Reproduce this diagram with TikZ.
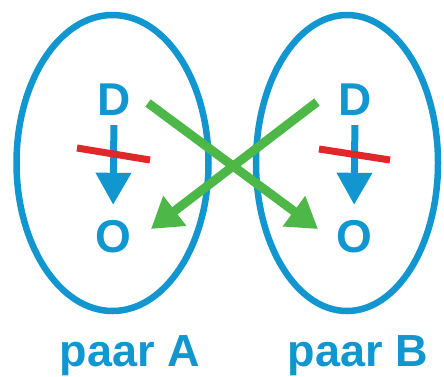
\documentclass[tikz,border=0pt]{standalone}
\usepackage{fontspec}
\setmainfont{Liberation Sans}
\usetikzlibrary{arrows.meta}
\definecolor{pblue}{RGB}{17,150,208}
\definecolor{pgreen}{RGB}{77,184,72}
\definecolor{pred}{RGB}{227,38,42}
\tikzset{
  ring/.style={draw=pblue, line width=6.5pt},
  letter/.style={text=pblue, font=\bfseries\fontsize{46}{46}\selectfont, inner sep=0pt, text height=33pt, text depth=0pt, anchor=base},
  flow/.style={draw=pblue, line width=7pt, -{Triangle[length=32pt,width=34pt]}, shorten <=10pt, shorten >=14pt},
  cross/.style={draw=pgreen, line width=9pt, -{Triangle[length=30pt,width=36pt]}},
  bar/.style={draw=pred, line width=7pt},
  label/.style={text=pblue, font=\bfseries\fontsize{45}{45}\selectfont, inner sep=0pt, anchor=base}
}
\begin{document}
\begin{tikzpicture}[x=1pt,y=-1pt]
\useasboundingbox (0,0) rectangle (444,376);
\fill[white] (0,0) rectangle (444,376);
% rings
\draw[ring] (112.5,163) ellipse [x radius=96, y radius=148];
\draw[ring] (347,163) ellipse [x radius=91, y radius=148];
% letters
\node[letter] (DL) at (114,115) {D};
\node[letter] (OL) at (113,252) {O};
\node[letter] (DR) at (355,115) {D};
\node[letter] (OR) at (354,252) {O};
% vertical arrows
\draw[flow] (DL.south) -- (OL.north);
\draw[flow] (DR.south) -- (OR.north);
% red bars
\coordinate (rl1) at (77,148); \coordinate (rl2) at (150,160);
\coordinate (rr1) at (319,149); \coordinate (rr2) at (390,160);
\draw[bar] (rl1) -- (rl2);
\draw[bar] (rr1) -- (rr2);
% green crossing arrows
\coordinate (gls) at (148,103); \coordinate (gle) at (318,229);
\coordinate (grs) at (317,102); \coordinate (gre) at (151,229);
\draw[cross] (gls) -- (gle);
\draw[cross] (grs) -- (gre);
% labels
\node[label] (pA) at (130,366) {paar A};
\node[label] (pB) at (358,366) {paar B};
\end{tikzpicture}
\end{document}
